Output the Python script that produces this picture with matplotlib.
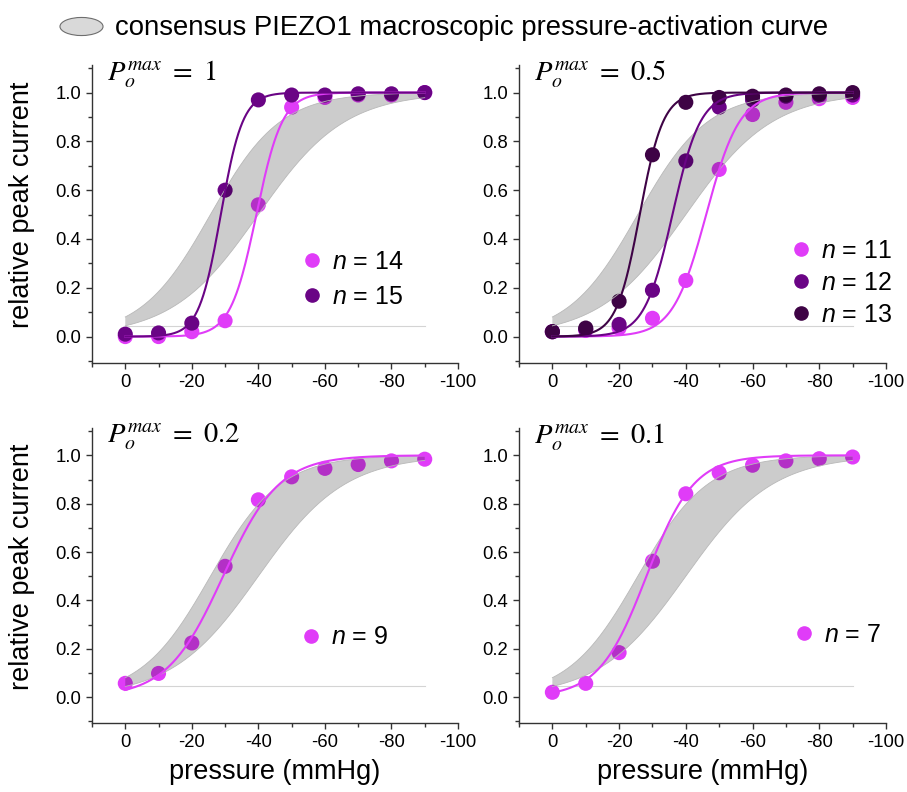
import numpy as np
import matplotlib
matplotlib.use("Agg")
import matplotlib.pyplot as plt
from matplotlib.lines import Line2D
from matplotlib.path import Path
from matplotlib.ticker import MultipleLocator, FormatStrFormatter

plt.rcParams['font.family'] = ['Liberation Sans', 'DejaVu Sans']
plt.rcParams['axes.unicode_minus'] = False
plt.rcParams['mathtext.fontset'] = 'custom'
plt.rcParams['mathtext.rm'] = 'Liberation Sans'
plt.rcParams['mathtext.it'] = 'Liberation Sans:italic'

# pressure steps (mmHg)
pressure = [0, -10, -20, -30, -40, -50, -60, -70, -80, -90]

# measured relative peak currents, one list per simulation
n14 = [0.0, 0.0, 0.02, 0.065, 0.54, 0.94, 0.98, 0.99, 0.99, 1.0]
n15 = [0.01, 0.015, 0.055, 0.60, 0.97, 0.99, 0.99, 0.995, 0.995, 1.0]
n11 = [0.02, 0.025, 0.035, 0.075, 0.23, 0.685, 0.91, 0.96, 0.975, 0.98]
n12 = [0.02, 0.03, 0.05, 0.19, 0.72, 0.94, 0.97, 0.985, 0.99, 0.99]
n13 = [0.02, 0.035, 0.145, 0.745, 0.96, 0.98, 0.985, 0.99, 0.995, 1.0]
n9 = [0.057, 0.098, 0.224, 0.541, 0.816, 0.911, 0.946, 0.962, 0.977, 0.984]
n7 = [0.02, 0.057, 0.184, 0.562, 0.841, 0.928, 0.959, 0.977, 0.986, 0.993]

# Boltzmann fit parameters (P50 in mmHg, slope k in mmHg)
fit_n14 = (39.4, 3.9)
fit_n15 = (28.7, 3.3)
fit_n11 = (46.1, 5.0)
fit_n12 = (36.0, 4.2)
fit_n13 = (26.2, 3.5)
fit_n9 = (29.4, 8.45)
fit_n7 = (28.2, 7.1)

# consensus macroscopic curve band (left / right Boltzmann edges)
band_upper = (25.6, 10.5)
band_lower = (40.0, 13.0)
baseline_level = 0.044

po_max = ['1', '0.5', '0.2', '0.1']

MAGENTA = '#e03cf8'
PURPLE = '#6a0485'
DARK = '#3e0345'

panels = [
    [(n14, fit_n14, MAGENTA, '14'), (n15, fit_n15, PURPLE, '15')],
    [(n11, fit_n11, MAGENTA, '11'), (n12, fit_n12, PURPLE, '12'), (n13, fit_n13, DARK, '13')],
    [(n9, fit_n9, MAGENTA, '9')],
    [(n7, fit_n7, MAGENTA, '7')],
]
leg_pos = [(0.575, 0.28), (0.74, 0.268), (0.57, 0.29), (0.75, 0.298)]
leg_space = [0.42, 0.33, 0.45, 0.45]


def boltz(p, params):
    p50, k = params
    return 1.0 / (1.0 + np.exp((p50 - p) / k))


W, H = 907, 792
fig = plt.figure(figsize=(W / 100, H / 100), dpi=100)

boxes = [(92, 65, 458, 362.7), (519, 65, 886, 362.7),
         (92, 428, 458, 723), (519, 428, 886, 723)]

pgrid = np.linspace(0, 90, 300)
px = np.array(pressure)

for i, box in enumerate(boxes):
    series = panels[i]
    x0, y0, x1, y1 = box
    ax = fig.add_axes([x0 / W, 1 - y1 / H, (x1 - x0) / W, (y1 - y0) / H])

    for vals, fit, col, lab in series:
        ax.scatter(px, vals, s=118, color=col, edgecolors='none', zorder=2)

    ax.plot([0, -90], [baseline_level, baseline_level], color='#d4d4d4', lw=0.8, zorder=1)
    lo = boltz(pgrid, band_lower)
    hi = boltz(pgrid, band_upper)
    ax.fill_between(-pgrid, lo, hi, facecolor='black', alpha=0.2, edgecolor='none', zorder=3)
    ax.plot(-pgrid, lo, color='#b8b8b8', lw=0.6, zorder=3)
    ax.plot(-pgrid, hi, color='#b8b8b8', lw=0.6, zorder=3)

    handles = []
    for vals, fit, col, lab in series:
        ax.plot(-pgrid, boltz(pgrid, fit), color=col, lw=1.5, zorder=4)
        handles.append(Line2D([], [], ls='none', marker='o', ms=9.5, color=col))

    ax.legend(handles, [f'$n$ = {s[3]}' for s in series], loc='center left',
              bbox_to_anchor=leg_pos[i], frameon=False, fontsize=18, handlelength=0.8,
              handletextpad=0.4, borderpad=0, borderaxespad=0, labelspacing=leg_space[i])

    ax.text(0.04, 1.02, r'$P_o^{max}\ =\ %s$' % po_max[i], transform=ax.transAxes,
            ha='left', va='top', fontsize=20.5, math_fontfamily='stix')

    ax.set_xlim(10, -100)
    ax.set_ylim(-0.107, 1.113)
    ax.xaxis.set_major_locator(MultipleLocator(20))
    ax.xaxis.set_minor_locator(MultipleLocator(10))
    ax.yaxis.set_major_locator(MultipleLocator(0.2))
    ax.yaxis.set_minor_locator(MultipleLocator(0.1))
    ax.yaxis.set_major_formatter(FormatStrFormatter('%.1f'))
    ax.tick_params(which='major', length=4, width=1, labelsize=13.3, color='#333333', pad=4)
    ax.tick_params(which='minor', length=3, width=1, color='#333333')
    for sp in ['top', 'right']:
        ax.spines[sp].set_visible(False)
    for sp in ['left', 'bottom']:
        ax.spines[sp].set_color('#333333')
        ax.spines[sp].set_linewidth(1)

    if i % 2 == 0:
        ax.set_ylabel('relative peak current', fontsize=19.5)
        ax.yaxis.set_label_coords(-0.155, 0.53)
    if i >= 2:
        ax.set_xlabel('pressure (mmHg)', fontsize=19.5, labelpad=6)

# top legend with an elliptic swatch
ell = Path(np.column_stack([Path.unit_circle().vertices[:, 0],
                            Path.unit_circle().vertices[:, 1] * 0.42]),
           Path.unit_circle().codes)
top_handle = Line2D([], [], ls='none', marker=ell, ms=31, markerfacecolor='#d9d9d9',
                    markeredgecolor='#6e6e6e', markeredgewidth=0.8)
fig.legend([top_handle], ['consensus PIEZO1 macroscopic pressure-activation curve'],
           loc='upper center', bbox_to_anchor=(0.49, 1.012), frameon=False, fontsize=19.8,
           handlelength=1.5, handletextpad=0.5)

fig.savefig('out.png', dpi=100)
